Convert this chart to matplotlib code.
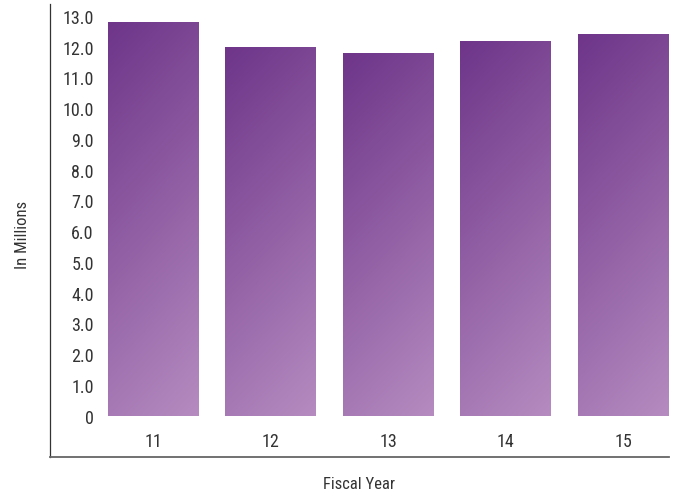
import numpy as np
import matplotlib
matplotlib.use('Agg')
import matplotlib.pyplot as plt
from matplotlib.colors import LinearSegmentedColormap

# ---- data ----
years = ['11', '12', '13', '14', '15']
values = [12.8, 12.0, 11.8, 12.2, 12.4]
ytick_vals = list(range(0, 14))
ytick_labels = ['0'] + [f'{v:.1f}' for v in ytick_vals[1:]]

plt.rcParams['font.family'] = ['Roboto Condensed', 'Liberation Sans', 'DejaVu Sans']

fig = plt.figure(figsize=(6.78, 5.02), dpi=100)
ax = fig.add_axes([50 / 678, 44 / 502, 619 / 678, 453 / 502])

# gradient: dark top-left -> light bottom-right
cmap = LinearSegmentedColormap.from_list('purp', ['#6e3589', '#b58bc0'])
u = np.linspace(0, 1, 64)
v = np.linspace(0, 1, 256)
U, V = np.meshgrid(u, v)
grad = 0.2 * U + 0.8 * V

x = np.arange(len(years))
width = 0.77
bars = ax.bar(x, values, width=width, facecolor='none', edgecolor='none')
for b in bars:
    x0, y0 = b.get_x(), b.get_y()
    w, h = b.get_width(), b.get_height()
    im = ax.imshow(grad, cmap=cmap, vmin=0, vmax=1, origin='upper',
                   extent=[x0, x0 + w, y0, y0 + h], aspect='auto',
                   interpolation='bilinear', zorder=2)
    im.set_clip_path(b)

ax.set_xlim(-0.877, 4.39)
ax.set_ylim(-1.35, 13.39)

# tick labels sit inside the frame
ax.set_yticks(ytick_vals)
ax.set_yticklabels(ytick_labels)
ax.set_xticks(x)
ax.set_xticklabels(years)
ax.tick_params(axis='y', length=0, pad=-31.5, labelsize=13, labelcolor='#333333')
for lab in ax.get_yticklabels():
    lab.set_horizontalalignment('right')
ax.tick_params(axis='x', length=0, pad=-18, labelsize=13, labelcolor='#333333')

for s in ['top', 'right']:
    ax.spines[s].set_visible(False)
ax.spines['left'].set_color('#333333')
ax.spines['left'].set_linewidth(0.9)
ax.spines['bottom'].set_color('#666666')
ax.spines['bottom'].set_linewidth(1.3)

ax.set_xlabel('Fiscal Year', fontsize=12, color='#333333', va='center')
ax.xaxis.set_label_coords(0.499, -0.0596)
ax.set_ylabel('In Millions', fontsize=12, color='#333333', va='center', ha='center')
ax.yaxis.set_label_coords(-0.045, 0.492)

fig.savefig('out.png', dpi=100)
